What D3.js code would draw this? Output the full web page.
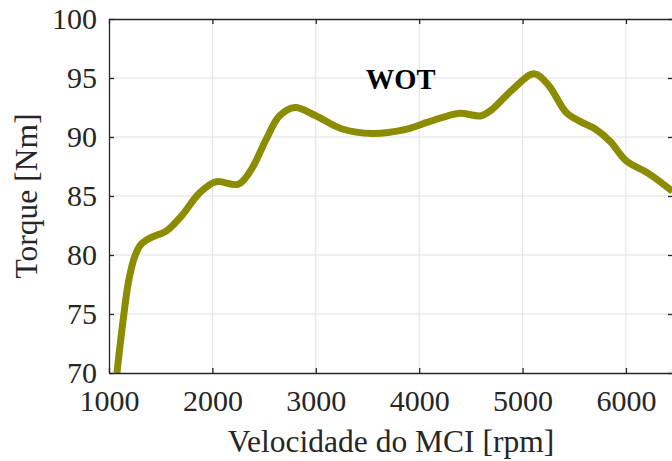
<!DOCTYPE html>
<html>
<head>
<meta charset="utf-8">
<script src="https://cdn.jsdelivr.net/npm/d3@7"></script>
<style>
  body { margin: 0; background: #fff; }
  text { font-family: "Liberation Serif", "Times New Roman", serif; fill: #262626; }
</style>
</head>
<body>
<script>
// dados (curva WOT)
var rpm = [1077, 1130, 1190, 1250, 1310, 1410, 1550, 1700, 1870, 2030, 2250, 2380, 2520, 2650, 2800,
           3000, 3250, 3550, 3850, 4100, 4380, 4600, 4700, 4900, 5110, 5250, 5420,
           5560, 5700, 5850, 6000, 6220, 6450];
var torque = [70.0, 74.0, 77.8, 79.9, 80.9, 81.5, 82.0, 83.3, 85.2, 86.2, 86.0, 87.3, 89.8, 91.8, 92.5,
              91.8, 90.7, 90.3, 90.6, 91.3, 92.0, 91.8, 92.3, 94.0, 95.35, 94.4, 92.1,
              91.3, 90.7, 89.6, 88.0, 86.9, 85.4];
var xTicks = [1000, 2000, 3000, 4000, 5000, 6000];
var yTicks = [70, 75, 80, 85, 90, 95, 100];

var W = 672, H = 461;
var margin = {top: 19, right: -1, bottom: 88, left: 109},
    width = W - margin.left - margin.right,
    height = H - margin.top - margin.bottom;

var svg = d3.select("body").append("svg")
  .attr("width", W)
  .attr("height", H);

var g = svg.append("g")
  .attr("transform", "translate(" + margin.left + "," + margin.top + ")");

var x = d3.scaleLinear().domain([1000, 6455]).range([0, width]);
var y = d3.scaleLinear().domain([70, 100]).range([height, 0]);

// grid
g.append("g").selectAll("line").data(xTicks.slice(1)).enter().append("line")
  .attr("x1", function(d) { return x(d); }).attr("x2", function(d) { return x(d); })
  .attr("y1", 0).attr("y2", height)
  .attr("stroke", "#e0e0e0").attr("stroke-width", 1);
g.append("g").selectAll("line").data(yTicks.slice(1, -1)).enter().append("line")
  .attr("y1", function(d) { return y(d); }).attr("y2", function(d) { return y(d); })
  .attr("x1", 0).attr("x2", width)
  .attr("stroke", "#e0e0e0").attr("stroke-width", 1);

// curva
var line = d3.line()
  .x(function(d, i) { return x(rpm[i]); })
  .y(function(d) { return y(d); })
  .curve(d3.curveCatmullRom.alpha(0.5));

g.append("path")
  .datum(torque)
  .attr("fill", "none")
  .attr("stroke", "#8c8c00")
  .attr("stroke-width", 7)
  .attr("d", line);

// eixos (box on, ticks para dentro)
var axisStyle = function(sel) {
  sel.select(".domain").attr("stroke", "#262626").attr("stroke-width", 1.3);
  sel.selectAll(".tick line").attr("stroke", "#262626").attr("stroke-width", 1.3);
  sel.selectAll("text").attr("font-size", "30px").attr("fill", "#262626")
    .attr("font-family", "Liberation Serif");
};

g.append("g")
  .attr("transform", "translate(0," + height + ")")
  .call(d3.axisBottom(x).tickValues(xTicks).tickSizeInner(-5).tickSizeOuter(0)
    .tickPadding(17).tickFormat(d3.format("d")))
  .call(axisStyle);
g.append("g")
  .call(d3.axisTop(x).tickValues(xTicks).tickSizeInner(-5).tickSizeOuter(0).tickFormat(""))
  .call(axisStyle);
g.append("g")
  .call(d3.axisLeft(y).tickValues(yTicks).tickSizeInner(-5).tickSizeOuter(0).tickPadding(12))
  .call(axisStyle);
g.append("g")
  .attr("transform", "translate(" + width + ",0)")
  .call(d3.axisRight(y).tickValues(yTicks).tickSizeInner(-5).tickSizeOuter(0).tickFormat(""))
  .call(axisStyle);

// rotulos
svg.append("text")
  .attr("x", 391).attr("y", 452)
  .attr("text-anchor", "middle")
  .attr("font-size", "31.5px")
  .text("Velocidade do MCI [rpm]");

svg.append("text")
  .attr("transform", "translate(37," + (margin.top + height / 2) + ") rotate(-90)")
  .attr("text-anchor", "middle")
  .attr("font-size", "31.5px")
  .text("Torque [Nm]");

g.append("text")
  .attr("x", x(3820)).attr("y", 70)
  .attr("text-anchor", "middle")
  .attr("font-size", "28.5px")
  .attr("font-weight", "bold")
  .style("fill", "#000")
  .text("WOT");
</script>
</body>
</html>
